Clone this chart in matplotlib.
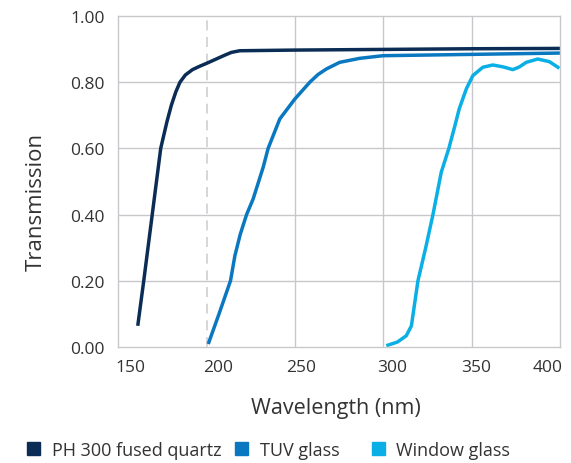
import numpy as np
import matplotlib.pyplot as plt
from matplotlib.patches import Patch

plt.rcParams['font.family'] = ['Open Sans', 'DejaVu Sans']

# PH 300 fused quartz
quartz_nm = [161, 164.4, 169.2, 174, 177.5, 180, 182.5, 184.9, 188, 192, 196, 200, 205, 210, 214, 218.8, 250, 300, 350, 400]
quartz_t = [0.064, 0.2, 0.4, 0.6, 0.68, 0.73, 0.77, 0.8, 0.822, 0.838, 0.848, 0.857, 0.869, 0.881, 0.89, 0.895, 0.897, 0.899, 0.901, 0.902]

# TUV glass
tuv_nm = [200.9, 207, 213.5, 216, 219, 222.6, 226.3, 232, 234.8, 241.4, 249.9, 258.4, 263, 267.8, 275.3, 286.6, 299.8, 350, 400]
tuv_t = [0.009, 0.1, 0.2, 0.276, 0.34, 0.4, 0.447, 0.543, 0.6, 0.689, 0.749, 0.8, 0.823, 0.84, 0.86, 0.872, 0.88, 0.884, 0.888]

# Window glass
win_nm = [301.7, 308, 313, 315.9, 319.6, 324, 328.1, 332.8, 337.1, 340.3, 343, 347, 350.7, 356.3, 362, 368, 373.3, 377, 380.9, 387.4, 394, 399.7]
win_t = [0.004, 0.015, 0.034, 0.064, 0.2, 0.3, 0.4, 0.528, 0.6, 0.664, 0.72, 0.78, 0.82, 0.845, 0.852, 0.846, 0.838, 0.846, 0.86, 0.87, 0.862, 0.842]

labels = ['PH 300 fused quartz', 'TUV glass', 'Window glass']
colors = ['#0b2d55', '#0a78c0', '#0aafe6']
xtick_labels = ['150', '200', '250', '300', '350', '400']
ytick_labels = ['0.00', '0.20', '0.40', '0.60', '0.80', '1.00']

fig = plt.figure(figsize=(5.71, 4.64), dpi=100)
ax = fig.add_axes([0.2072, 0.25, 0.7735, 0.7134])

grid_c = '#c8c8cc'
for yv in [0.2, 0.4, 0.6, 0.8]:
    ax.axhline(yv, color=grid_c, lw=1, zorder=0)
for xv in [250, 300, 350]:
    ax.axvline(xv, color=grid_c, lw=1, zorder=0)
ax.axvline(200, color='#d0d0d4', lw=1.2, ls=(0, (6, 4)), zorder=0)

for x, y, c in zip([quartz_nm, tuv_nm, win_nm], [quartz_t, tuv_t, win_t], colors):
    ax.plot(x, y, color=c, lw=2.5, solid_capstyle='butt', solid_joinstyle='round')

ax.set_xlim(150, 400)
ax.set_ylim(0, 1)
# tick labels in the source sit a little off the grid lines
ax.set_xticks([156.6, 206.4, 253.7, 305.1, 352.6, 392.9])
ax.set_xticklabels(xtick_labels)
ax.set_yticks([0, 0.2, 0.4, 0.6, 0.8, 1.0])
ax.set_yticklabels(ytick_labels)
for s in ax.spines.values():
    s.set_color(grid_c)
    s.set_linewidth(1)
ax.tick_params(length=0, labelsize=12.5, labelcolor='#333333')
ax.tick_params(axis='y', pad=10)
ax.tick_params(axis='x', pad=9)

ax.set_xlabel('Wavelength (nm)', fontsize=15.5, color='#333333', va='top')
ax.xaxis.set_label_coords(0.492, -0.15)
ax.set_ylabel('Transmission', fontsize=16, color='#333333')
ax.yaxis.set_label_coords(-0.162, 0.44)

# one legend entry per slot, as in the source
for lab, c, xpos in zip(labels, colors, [0.047, 0.412, 0.651]):
    fig.legend([Patch(facecolor=c, edgecolor=c)], [lab], loc='center left',
               bbox_to_anchor=(xpos, 0.028), frameon=False, fontsize=13,
               handlelength=0.72, handleheight=0.72, handletextpad=0.65,
               labelcolor='#333333', borderpad=0, borderaxespad=0)

fig.savefig('out.png', dpi=100)
